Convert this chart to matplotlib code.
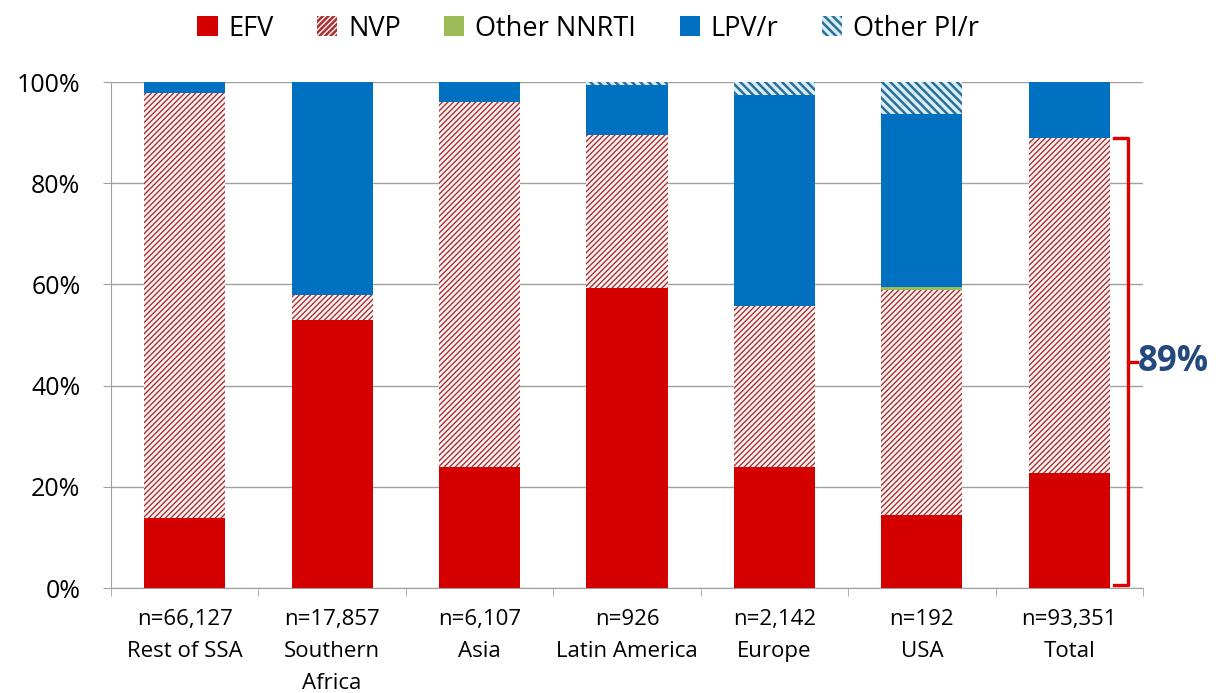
import matplotlib
matplotlib.use("Agg")
import matplotlib.pyplot as plt
from matplotlib.patches import Patch
import numpy as np

plt.rcParams['font.family'] = ['Open Sans', 'DejaVu Sans']
plt.rcParams['hatch.linewidth'] = 1.0

categories = ["n=66,127\nRest of SSA", "n=17,857\nSouthern\nAfrica", "n=6,107\nAsia",
              "n=926\nLatin America", "n=2,142\nEurope", "n=192\nUSA", "n=93,351\nTotal"]
efv = [13.8, 53.0, 24.0, 59.2, 24.0, 14.4, 22.7]
nvp = [84.0, 5.0, 72.0, 30.3, 31.7, 44.5, 66.2]
other_nnrti = [0.0, 0.0, 0.0, 0.0, 0.0, 0.5, 0.0]
lpv = [2.2, 42.0, 4.0, 9.9, 41.7, 34.2, 11.1]
other_pi = [0.0, 0.0, 0.0, 0.6, 2.6, 6.4, 0.0]
yticks = [0, 20, 40, 60, 80, 100]
bracket_label = "89%"

fig = plt.figure(figsize=(12.2, 6.93), dpi=100)
ax = fig.add_axes([111/1220, 1-588/693, (1143-111)/1220, (588-82)/693])

x = np.arange(len(categories))
w = 0.55
bottom = np.zeros(len(categories))
ax.bar(x, efv, w, bottom=bottom, color="#D40000", linewidth=0, zorder=3)
bottom += efv
ax.bar(x, nvp, w, bottom=bottom, color="#FFF3F3", edgecolor="#A83232", hatch="//////", linewidth=0, zorder=3)
bottom += nvp
ax.bar(x, other_nnrti, w, bottom=bottom, color="#9BBB59", linewidth=0, zorder=3)
bottom += np.array(other_nnrti)
ax.bar(x, lpv, w, bottom=bottom, color="#0070C0", linewidth=0, zorder=3)
bottom += lpv
plt.rcParams['hatch.linewidth'] = 1.8
ax.bar(x, other_pi, w, bottom=bottom, color="#D6EEF9", edgecolor="#2E6F96", hatch="\\\\\\\\", linewidth=0, zorder=3)

ax.set_xlim(-0.5, len(categories) - 0.5)
ax.set_ylim(0, 100)
ax.set_yticks(yticks)
ax.set_yticklabels([f"{v}%" for v in yticks], fontsize=18)
ax.yaxis.grid(True, color="#A0A0A0", linewidth=1, zorder=0)
ax.set_xticks(x)
ax.set_xticklabels(categories, fontsize=16, linespacing=1.7)
ax.tick_params(axis='x', length=0, pad=15)
ax.set_xticks(np.arange(-0.5, len(categories) + 0.5, 1), minor=True)
ax.tick_params(axis='x', which='minor', length=6, color="#A0A0A0")
ax.tick_params(axis='y', length=6, color="#A0A0A0", pad=16)
for s in ["top", "right"]:
    ax.spines[s].set_visible(False)
for s in ["left", "bottom"]:
    ax.spines[s].set_color("#A0A0A0")

# bracket
top = efv[-1] + nvp[-1]
xb0, xb1, xt = 6.30, 6.40, 6.46
mid = (top + 0.5) / 2
ax.plot([xb0, xb1, xb1, xb0], [top, top, 0.5, 0.5], color="#E00000", lw=2.4, clip_on=False, zorder=5,
        solid_joinstyle='round')
ax.plot([xb1, xt], [mid, mid], color="#E00000", lw=2.4, clip_on=False, zorder=5)
ax.text(xt + 0.005, mid, bracket_label, color="#24497F", fontsize=25, fontweight="bold",
        va="center", ha="left", clip_on=False)

handles = [Patch(facecolor="#D40000"),
           Patch(facecolor="#FFF3F3", edgecolor="#A83232", hatch="//////", linewidth=0),
           Patch(facecolor="#9BBB59"),
           Patch(facecolor="#0070C0"),
           Patch(facecolor="#D6EEF9", edgecolor="#2E6F96", hatch="\\\\\\\\", linewidth=0)]
labels = ["EFV", "NVP", "Other NNRTI", "LPV/r", "Other PI/r"]
fig.legend(handles, labels, loc="upper center", bbox_to_anchor=(0.482, 1.014), ncol=5, frameon=False,
           fontsize=19.5, handlelength=0.75, handleheight=0.75, columnspacing=1.6, handletextpad=0.4)

fig.savefig("out.png", dpi=100)
